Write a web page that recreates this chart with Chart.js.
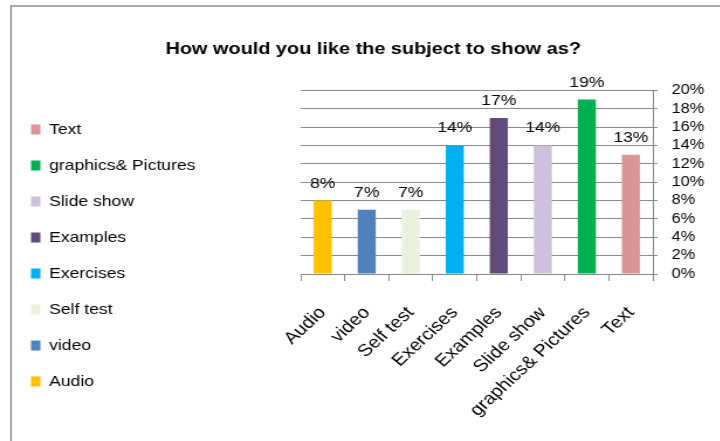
<!DOCTYPE html>
<html lang="en">
<head>
    <meta charset="UTF-8">
    <title>How would you like the subject to show as?</title>
    <script src="https://cdn.jsdelivr.net/npm/chart.js"></script>
    <style>
        html, body { margin: 0; padding: 0; width: 720px; height: 441px; overflow: hidden; background: #fff; }
        .frame { position: absolute; left: 10px; top: 5px; width: 760px; height: 460px;
                 border-left: 2px solid #a8a8a8; border-top: 2px solid #a8a8a8; }
        /* chart is drawn narrow and widened on screen */
        #surveyChart { position: absolute; left: 0; top: 0; transform: scaleX(1.17); transform-origin: 0 0; }
    </style>
</head>
<body>
    <div class="frame"></div>
    <canvas id="surveyChart" width="660" height="441"></canvas>

    <script>
        // Survey answers (percent of respondents)
        const categories = ['Audio', 'video', 'Self test', 'Exercises', 'Examples', 'Slide show', 'graphics& Pictures', 'Text'];
        const shares = [8, 7, 7, 14, 17, 14, 19, 13];
        const barColors = ['#FFC000', '#4F81BD', '#EBF1DE', '#00B0F0', '#604A7B', '#CCC1DA', '#00B050', '#D99694'];
        const yMax = 20;
        const yStep = 2;

        Chart.defaults.font.family = "'Liberation Sans', Arial, sans-serif";
        Chart.defaults.color = '#000';

        const gridGray = '#8a8a8a';
        const plotLeft = 257;   // left edge of the bar area, canvas px
        const legendLeft = 5.5;
        const legendBottom = 410;

        // value labels above each bar
        const barValueLabels = {
            id: 'barValueLabels',
            afterDatasetsDraw(chart) {
                const ctx = chart.ctx;
                const meta = chart.getDatasetMeta(0);
                ctx.save();
                ctx.font = "15px 'Liberation Sans', Arial, sans-serif";
                ctx.fillStyle = '#000';
                ctx.textAlign = 'center';
                ctx.textBaseline = 'alphabetic';
                meta.data.forEach((bar, i) => {
                    ctx.fillText(shares[i] + '%', bar.x, bar.y - 13);
                });
                ctx.restore();
            }
        };

        // pin the legend to the left edge, using the whole gap before the bars
        const legendPlacement = {
            id: 'legendPlacement',
            afterLayout(chart) {
                const legend = chart.legend;
                legend.left = legendLeft;
                legend.right = plotLeft;
                legend.width = plotLeft - legendLeft;
                legend.bottom = legendBottom;
                legend.height = legendBottom - legend.top;
            }
        };

        new Chart(document.getElementById('surveyChart'), {
            type: 'bar',
            data: {
                labels: categories,
                datasets: [{
                    label: 'Share',
                    data: shares,
                    backgroundColor: barColors,
                    borderWidth: 0,
                    categoryPercentage: 1,
                    barPercentage: 0.41
                }]
            },
            options: {
                responsive: false,
                animation: false,
                devicePixelRatio: 1,
                layout: { padding: { left: 7, right: 29, top: 0, bottom: 7 } },
                scales: {
                    y: {
                        position: 'right',
                        min: 0,
                        max: yMax,
                        ticks: {
                            stepSize: yStep,
                            autoSkip: false,
                            padding: 12,
                            font: { size: 14 },
                            callback: v => v + '%'
                        },
                        grid: { color: gridGray, lineWidth: 1, tickLength: 4 },
                        border: { color: gridGray },
                        afterFit: s => { s.width = 73; }
                    },
                    x: {
                        offset: true,
                        ticks: {
                            minRotation: 47,
                            maxRotation: 47,
                            padding: 22,
                            autoSkip: false,
                            font: { size: 17 }
                        },
                        grid: { drawOnChartArea: false, color: gridGray, tickLength: 7 },
                        border: { color: gridGray },
                        // keep the bars clear of the legend
                        afterFit: s => { s.height = 160; s.paddingLeft = plotLeft; }
                    }
                },
                plugins: {
                    title: {
                        display: true,
                        text: 'How would you like the subject to show as?',
                        font: { size: 17, weight: 'bold' },
                        color: '#000',
                        padding: { top: 39, bottom: 31 }
                    },
                    legend: {
                        position: 'left',
                        align: 'end',
                        onClick: () => {},
                        labels: {
                            boxWidth: 8,
                            boxHeight: 10,
                            padding: 21,
                            font: { size: 15 },
                            color: '#000',
                            generateLabels: () => categories.map((c, i) => ({
                                text: c,
                                fillStyle: barColors[i],
                                strokeStyle: barColors[i],
                                lineWidth: 0,
                                hidden: false,
                                index: i,
                                datasetIndex: 0
                            })).reverse()
                        }
                    },
                    tooltip: { enabled: false }
                }
            },
            plugins: [barValueLabels, legendPlacement]
        });
    </script>
</body>
</html>
